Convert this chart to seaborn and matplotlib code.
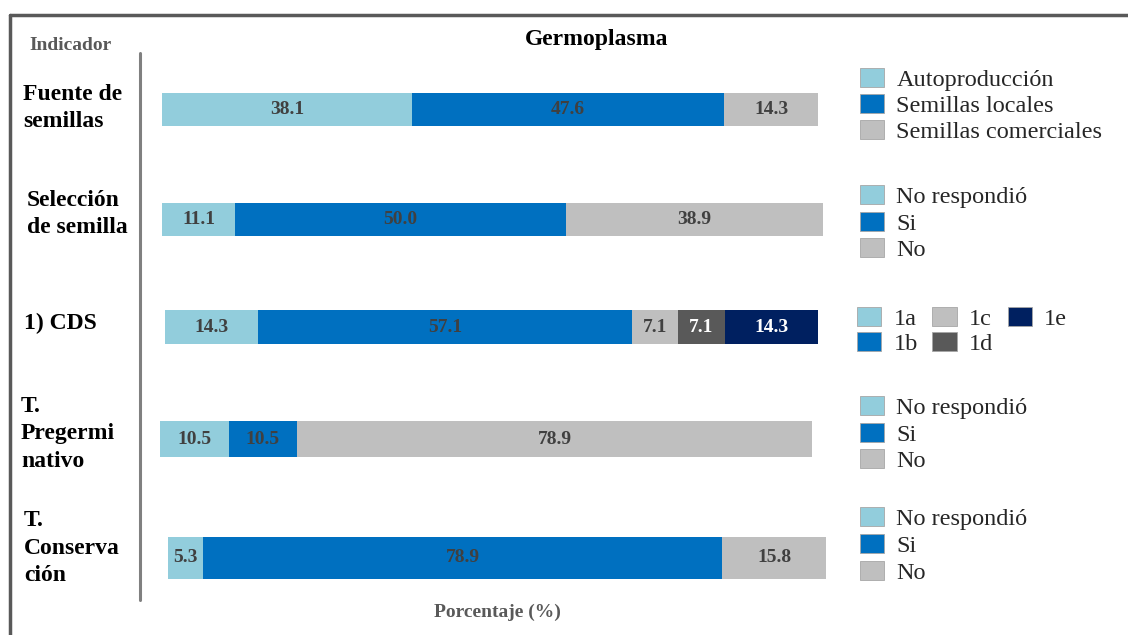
import matplotlib
matplotlib.use("Agg")
import matplotlib.pyplot as plt
from matplotlib.patches import Patch
from matplotlib.lines import Line2D
import seaborn as sns
import pandas as pd

sns.set_theme(style="white")
plt.rcParams["font.family"] = ["Liberation Serif", "DejaVu Serif"]

# ---- data -------------------------------------------------------------
indicators = ["Fuente de\nsemillas", "Selección\nde semilla", "1) CDS",
              "T.\nPregermi\nnativo", "T.\nConserva\nción"]

fuente_labels = ["Autoproducción", "Semillas locales", "Semillas comerciales"]
fuente_values = [38.1, 47.6, 14.3]

seleccion_labels = ["No respondió", "Si", "No"]
seleccion_values = [11.1, 50.0, 38.9]

cds_labels = ["1a", "1b", "1c", "1d", "1e"]
cds_values = [14.3, 57.1, 7.1, 7.1, 14.3]

pregerm_labels = ["No respondió", "Si", "No"]
pregerm_values = [10.5, 10.5, 78.9]

conserv_labels = ["No respondió", "Si", "No"]
conserv_values = [5.3, 78.9, 15.8]

# ---- styling ----------------------------------------------------------
LIGHT = "#92CDDC"
BLUE = "#0070C0"
GRAY = "#BFBFBF"
DARK = "#595959"
NAVY = "#002060"
three_colors = [LIGHT, BLUE, GRAY]
cds_colors = [LIGHT, BLUE, GRAY, DARK, NAVY]
TXT = "#404040"

W, H = 1128, 635
fig = plt.figure(figsize=(W / 100, H / 100), dpi=100)


def fx(px):
    return px / W


def fy(py):
    return 1 - py / H


rows = [
    # labels, values, colors, bar box (x0, x1, y0, y1) in pixels,
    # label position, legend anchor, legend columns, legend spacing
    (fuente_labels, fuente_values, three_colors, (162, 818, 93, 126),
     (23, 108), (860, 68), 1, 0.12),
    (seleccion_labels, seleccion_values, three_colors, (162, 823, 203, 236),
     (27, 214), (860, 185), 1, 0.14),
    (cds_labels, cds_values, cds_colors, (165, 818, 310, 344),
     (24, 323), (857, 307), 3, 0.06),
    (pregerm_labels, pregerm_values, three_colors, (160, 812, 421, 457),
     (21, 434), (860, 396), 1, 0.14),
    (conserv_labels, conserv_values, three_colors, (168, 826, 537, 579),
     (24, 548), (860, 507), 1, 0.16),
]

for name, (labels, values, colors, box, lab_pos, leg_pos, ncol, lsp) in zip(indicators, rows):
    x0, x1, y0, y1 = box
    ax = fig.add_axes([fx(x0), fy(y1), fx(x1 - x0), (y1 - y0) / H])

    # stacked horizontal bar: cumulative ends drawn from longest to shortest
    cum = pd.Series(values).cumsum().tolist()
    df = pd.DataFrame({"segment": labels, "end": cum, "row": [name] * len(labels)})
    sns.barplot(data=df, x="end", y="row", hue="segment",
                hue_order=labels[::-1], palette=dict(zip(labels, colors)),
                dodge=False, orient="h", width=1.0, saturation=1,
                linewidth=0, legend=False, ax=ax)
    ax.set_xlim(0, cum[-1])
    ax.set_ylim(0.5, -0.5)
    ax.axis("off")

    starts = [0] + cum[:-1]
    for s, v, c in zip(starts, values, colors):
        tc = "white" if c in (DARK, NAVY) else TXT
        ax.text(s + v / 2, 0, f"{v:.1f}", ha="center", va="center",
                fontsize=14, fontweight="bold", color=tc)

    fig.text(fx(lab_pos[0]), fy(lab_pos[1]), name, ha="left", va="center",
             fontsize=17, fontweight="bold", color="black", linespacing=1.38)

    handles = [Patch(facecolor=c, edgecolor="#A6A6A6", linewidth=0.6) for c in colors]
    fig.legend(handles, labels, loc="upper left",
               bbox_to_anchor=(fx(leg_pos[0]), fy(leg_pos[1])),
               frameon=False, fontsize=17.5, ncol=ncol, borderpad=0,
               borderaxespad=0, handlelength=1.0, handleheight=0.85,
               handletextpad=0.5, labelspacing=lsp, columnspacing=0.6)

# titles
fig.text(fx(597), fy(40), "Germoplasma", ha="center", va="center",
         fontsize=17, fontweight="bold", color="black")
fig.text(fx(71), fy(46), "Indicador", ha="center", va="center",
         fontsize=14, fontweight="bold", color="#595959")
fig.text(fx(497), fy(612), "Porcentaje (%)", ha="center", va="center",
         fontsize=14, fontweight="bold", color="#595959")

# outer frame (top and left) and the indicator separator
fig.add_artist(Line2D([fx(10), 1.0], [fy(15), fy(15)], color="#595959", lw=2.5))
fig.add_artist(Line2D([fx(10), fx(10)], [fy(15), 0.0], color="#595959", lw=2.5))
fig.add_artist(Line2D([fx(140), fx(140)], [fy(53), fy(600)], color="#808080", lw=2.2))

fig.savefig("out.png", dpi=100)
